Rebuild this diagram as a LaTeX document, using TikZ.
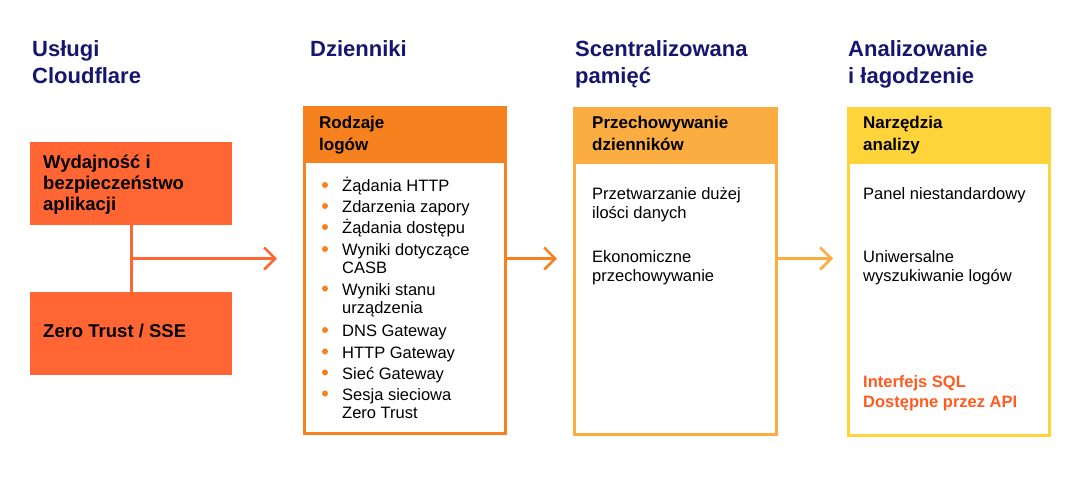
\documentclass[tikz,border=0pt]{standalone}
\usepackage{fontspec}
\setmainfont{Liberation Sans}
\usetikzlibrary{arrows.meta}

\definecolor{navy}{RGB}{22,22,110}
\definecolor{cfred}{HTML}{FF6633}
\definecolor{cforange}{HTML}{F6821F}
\definecolor{cflight}{HTML}{FBAD41}
\definecolor{cfyellow}{HTML}{FFD43B}
\definecolor{cflink}{HTML}{FF5A1F}

\tikzset{
  titolo/.style={anchor=base west, inner sep=0pt, align=left, text=navy,
    font=\fontsize{22}{26.6}\selectfont\bfseries},
  blocco/.style={anchor=north west, inner sep=0pt, fill=cfred,
    minimum width=202, minimum height=83},
  testata/.style={anchor=north west, inner sep=0pt, minimum width=201, minimum height=57},
  cornice/.style={anchor=north west, inner sep=0pt, line width=2.5pt,
    minimum width=201, minimum height=326},
  etichetta/.style={anchor=base west, inner sep=0pt, align=left,
    font=\fontsize{17}{22}\selectfont\bfseries},
  testo/.style={anchor=base west, inner sep=0pt, align=left,
    font=\fontsize{16.5}{19}\selectfont},
  freccia/.style={line width=2.5pt, -{Straight Barb[length=11pt, width=22pt]}}
}

\begin{document}
\begin{tikzpicture}[x=1pt, y=-1pt]
  \useasboundingbox (0,0) rectangle (1088,483);

  % Disegna i titoli delle colonne (base = ultima riga)
  \node[titolo] (tservizi) at (32,83.3) {Usługi\\Cloudflare};
  \node[titolo] (tdzienniki) at (310,56.7) {Dzienniki};
  \node[titolo] (tpamiec) at (575,83.3) {Scentralizowana\\pamięć};
  \node[titolo] (tanaliza) at (848,83.3) {Analizowanie\\i łagodzenie};

  % Disegna i servizi Cloudflare
  \node[blocco] (perf) at (30,142) {};
  \node[blocco] (zt) at (30,292) {};
  \node[etichetta, font=\fontsize{18.5}{21}\selectfont\bfseries] (perftxt) at (43,210)
    {Wydajność i\\bezpieczeństwo\\aplikacji};
  \node[etichetta, font=\fontsize{18.5}{21}\selectfont\bfseries] (zttxt) at (43,337.7)
    {Zero Trust / SSE};
  \coordinate (tip1) at (277,258.5);
  \draw[cfred, line width=3pt] (perf.south) -- (zt.north);
  \draw[freccia, cfred] (perf.south |- tip1) -- (tip1);

  % Disegna la colonna dei log
  \node[testata, fill=cforange] (logstesta) at (303,106) {};
  \node[cornice, draw=cforange] (logs) at (303,106) {};
  \node[etichetta] (logstxt) at (319,150) {Rodzaje\\logów};
  \foreach \y/\t/\r [count=\k] in {191.5/Żądania HTTP/0, 212.5/Zdarzenia zapory/0,
      233.5/Żądania dostępu/0, 255.5/Wyniki dotyczące\\CASB/1,
      295/Wyniki stanu\\urządzenia/1, 336.5/DNS Gateway/0, 358/HTTP Gateway/0,
      379/Sieć Gateway/0, 400/Sesja sieciowa\\Zero Trust/1} {
    \fill[cforange] (325,\y-6.5) circle [radius=3];
    \node[testo, font=\fontsize{16.5}{18.3}\selectfont] (voce\k) at (342,\y+\r*18.3) {\t};
  }
  \coordinate (tip2) at (557,258.5);
  \draw[freccia, cforange] (logs.east |- tip2) -- (tip2);

  % Disegna la colonna della memoria
  \node[testata, fill=cflight, minimum width=202] (memtesta) at (573,107) {};
  \node[cornice, draw=cflight, minimum width=202] (mem) at (573,107) {};
  \node[etichetta] (memtxt) at (592,150) {Przechowywanie\\dzienników};
  \node[testo] (dati) at (592,218) {Przetwarzanie dużej\\ilości danych};
  \node[testo] (costo) at (592,281.5) {Ekonomiczne\\przechowywanie};
  \coordinate (tip3) at (833,258.5);
  \draw[freccia, cflight] (mem.east |- tip3) -- (tip3);

  % Disegna la colonna dell'analisi
  \node[testata, fill=cfyellow] (antesta) at (847,107) {};
  \node[cornice, draw=cfyellow, minimum height=327] (an) at (847,107) {};
  \node[etichetta] (antxt) at (863,150) {Narzędzia\\analizy};
  \node[testo] (panel) at (863,199) {Panel niestandardowy};
  \node[testo] (ricerca) at (863,281.5) {Uniwersalne\\wyszukiwanie logów};
  \node[testo, text=cflink, font=\fontsize{16.5}{20}\selectfont\bfseries] (api) at (863,407.7)
    {Interfejs SQL\\Dostępne przez API};
\end{tikzpicture}
\end{document}
